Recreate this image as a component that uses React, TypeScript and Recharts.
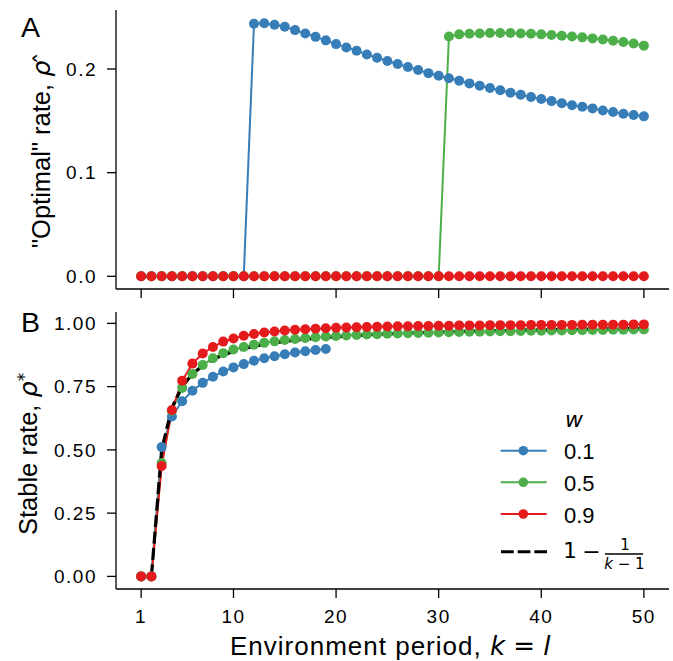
import React from 'react';
import { LineChart, Line, XAxis, YAxis, Legend } from 'recharts';

// Environment period k = l
const periods = [
  1, 2, 3, 4, 5, 6, 7, 8, 9, 10, 11, 12, 13, 14, 15, 16, 17, 18, 19, 20, 21, 22, 23, 24, 25,
  26, 27, 28, 29, 30, 31, 32, 33, 34, 35, 36, 37, 38, 39, 40, 41, 42, 43, 44, 45, 46, 47, 48, 49, 50,
];

// Panel A: "optimal" rate
const optimalW01 = [
  0, 0, 0, 0, 0, 0, 0, 0, 0, 0, 0,
  0.2437, 0.2442, 0.2427, 0.2408, 0.2375, 0.2343, 0.231, 0.2276, 0.224, 0.2208, 0.2176, 0.214, 0.2109,
  0.2077, 0.2048, 0.2019, 0.199, 0.196, 0.1935, 0.191, 0.1887, 0.1861, 0.1839, 0.1816, 0.1794, 0.1771,
  0.1752, 0.173, 0.171, 0.169, 0.167, 0.165, 0.1636, 0.162, 0.16, 0.1585, 0.1569, 0.1556, 0.1543,
];
const optimalW05 = [
  0, 0, 0, 0, 0, 0, 0, 0, 0, 0, 0, 0, 0, 0, 0, 0, 0, 0, 0, 0, 0, 0, 0, 0, 0, 0, 0, 0, 0, 0,
  0.2314, 0.2334, 0.234, 0.2343, 0.2347, 0.2347, 0.2347, 0.2343, 0.234, 0.2334, 0.2327, 0.232, 0.2314,
  0.2305, 0.2295, 0.2285, 0.2273, 0.226, 0.2245, 0.2225,
];
const optimalW09 = [
  0, 0, 0, 0, 0, 0, 0, 0, 0, 0, 0, 0, 0, 0, 0, 0, 0, 0, 0, 0, 0, 0, 0, 0, 0,
  0, 0, 0, 0, 0, 0, 0, 0, 0, 0, 0, 0, 0, 0, 0, 0, 0, 0, 0, 0, 0, 0, 0, 0, 0,
];

// Panel B: stable rate
const stableW01 = [
  0, 0, 0.511, 0.632, 0.692, 0.734, 0.765, 0.789, 0.81, 0.826, 0.839, 0.852, 0.862, 0.87, 0.878,
  0.885, 0.89, 0.895, 0.899,
  null, null, null, null, null, null, null, null, null, null, null, null, null, null, null, null,
  null, null, null, null, null, null, null, null, null, null, null, null, null, null, null,
];
const stableW05 = [
  0, 0, 0.448, 0.655, 0.745, 0.8, 0.836, 0.862, 0.882, 0.897,
  0.907, 0.916, 0.923, 0.929, 0.934, 0.938, 0.942, 0.945, 0.948, 0.95,
  0.952, 0.954, 0.956, 0.957, 0.959, 0.96, 0.961, 0.962, 0.963, 0.964,
  0.965, 0.966, 0.967, 0.967, 0.968, 0.969, 0.969, 0.97, 0.971, 0.971,
  0.972, 0.972, 0.973, 0.973, 0.974, 0.974, 0.975, 0.975, 0.976, 0.976,
];
const stableW09 = [
  0, 0, 0.436, 0.658, 0.773, 0.841, 0.881, 0.907, 0.928, 0.94,
  0.951, 0.958, 0.964, 0.968, 0.972, 0.975, 0.977, 0.979, 0.981, 0.983,
  0.984, 0.985, 0.986, 0.987, 0.988, 0.989, 0.989, 0.99, 0.99, 0.991,
  0.991, 0.992, 0.992, 0.992, 0.993, 0.993, 0.993, 0.993, 0.994, 0.994,
  0.994, 0.994, 0.994, 0.995, 0.995, 0.995, 0.995, 0.995, 0.996, 0.996,
];
const stableTheory = [
  null, 0, 0.5, 0.667, 0.75, 0.8, 0.833, 0.857, 0.875, 0.889,
  0.9, 0.909, 0.917, 0.923, 0.929, 0.933, 0.938, 0.941, 0.944, 0.947,
  0.95, 0.952, 0.955, 0.957, 0.958, 0.96, 0.962, 0.963, 0.964, 0.966,
  0.967, 0.968, 0.969, 0.97, 0.971, 0.971, 0.972, 0.973, 0.974, 0.974,
  0.975, 0.976, 0.976, 0.977, 0.977, 0.978, 0.978, 0.979, 0.979, 0.98,
];

const xTicks = [1, 10, 20, 30, 40, 50];
const yTicksA = [0, 0.1, 0.2];
const yTicksB = [0, 0.25, 0.5, 0.75, 1];
const wLabels = ['0.1', '0.5', '0.9'];
const wColors = ['#377eb8', '#4daf4a', '#e41a1c'];

const dataA = periods.map((k, i) => ({ k, w01: optimalW01[i], w05: optimalW05[i], w09: optimalW09[i] }));
const dataB = periods.map((k, i) => ({
  k,
  w01: stableW01[i],
  w05: stableW05[i],
  w09: stableW09[i],
  theory: stableTheory[i],
}));

const SANS = "'Liberation Sans', Arial, sans-serif";
const MATH = "'DejaVu Sans', sans-serif";

const tickStyle = { fontSize: 19, fill: '#000', fontFamily: SANS, letterSpacing: 1.5 };
const axisLineStyle = { stroke: '#000', strokeWidth: 1.3 };

const seriesKeys = ['w01', 'w05', 'w09'];

const LegendBox = () => {
  const rowsY = [50.7, 82.3, 114];
  return (
    <svg width={193} height={180} style={{ display: 'block' }}>
      <text x={85} y={27} fontFamily={MATH} fontStyle="italic" fontSize={22} fill="#000">w</text>
      {wLabels.map((lab, i) => (
        <g key={lab}>
          <line x1={20.7} x2={66.7} y1={rowsY[i]} y2={rowsY[i]} stroke={wColors[i]} strokeWidth={2} />
          <circle cx={43.3} cy={rowsY[i]} r={4.8} fill={wColors[i]} />
          <text x={84} y={rowsY[i] + 8.6} fontFamily={SANS} fontSize={22} fill="#000">{lab}</text>
        </g>
      ))}
      <line x1={21} x2={67} y1={151.7} y2={151.7} stroke="#000" strokeWidth={3} strokeDasharray="12.7 4" />
      <text x={83} y={158} fontFamily={MATH} fontSize={22} fill="#000">1</text>
      <text x={111.5} y={158.5} textAnchor="middle" fontFamily={MATH} fontSize={22} fill="#000">−</text>
      <line x1={125} x2={163} y1={154} y2={154} stroke="#000" strokeWidth={1.3} />
      <text x={145} y={150} textAnchor="middle" fontFamily={MATH} fontSize={15} fill="#000">1</text>
      <text x={144.5} y={168.5} textAnchor="middle" fontFamily={MATH} fontSize={15} fill="#000">
        <tspan fontStyle="italic">k</tspan>
        <tspan> − 1</tspan>
      </text>
    </svg>
  );
};

export default function App() {
  return (
    <div style={{ position: 'absolute', left: 0, top: 0, width: 673, height: 661, background: '#fff', fontFamily: SANS }}>
      <div style={{ position: 'absolute', left: 0, top: 0 }}>
        <LineChart width={673} height={300} data={dataA} margin={{ top: 10, right: 4, bottom: 0, left: 0 }}>
          <XAxis
            dataKey="k"
            type="number"
            domain={[-1.45, 52.45]}
            allowDataOverflow
            ticks={xTicks}
            tickFormatter={() => ''}
            height={11}
            tickSize={9}
            axisLine={axisLineStyle}
            tickLine={axisLineStyle}
            tick={tickStyle}
          />
          <YAxis
            type="number"
            domain={[-0.01224, 0.2569]}
            allowDataOverflow
            ticks={yTicksA}
            tickFormatter={(v) => Number(v).toFixed(1)}
            width={116}
            tickSize={9}
            tickMargin={10}
            axisLine={axisLineStyle}
            tickLine={axisLineStyle}
            tick={tickStyle}
          />
          {seriesKeys.map((key, i) => (
            <Line
              key={key}
              dataKey={key}
              stroke={wColors[i]}
              strokeWidth={2}
              dot={{ r: 5, fill: wColors[i], stroke: wColors[i], strokeWidth: 0 }}
              activeDot={false}
              isAnimationActive={false}
              type="linear"
            />
          ))}
        </LineChart>
      </div>
      <div style={{ position: 'absolute', left: 0, top: 300 }}>
        <LineChart width={673} height={361} data={dataB} margin={{ top: 12, right: 4, bottom: 0, left: 0 }}>
          <XAxis
            dataKey="k"
            type="number"
            domain={[-1.45, 52.45]}
            allowDataOverflow
            ticks={xTicks}
            height={72}
            tickSize={9}
            tickMargin={12}
            axisLine={axisLineStyle}
            tickLine={axisLineStyle}
            tick={tickStyle}
          />
          <YAxis
            type="number"
            domain={[-0.0498, 1.045]}
            allowDataOverflow
            ticks={yTicksB}
            tickFormatter={(v) => Number(v).toFixed(2)}
            width={116}
            tickSize={9}
            tickMargin={10}
            axisLine={axisLineStyle}
            tickLine={axisLineStyle}
            tick={tickStyle}
          />
          {seriesKeys.map((key, i) => (
            <Line
              key={key}
              dataKey={key}
              name={wLabels[i]}
              stroke={wColors[i]}
              strokeWidth={2}
              dot={{ r: 5, fill: wColors[i], stroke: wColors[i], strokeWidth: 0 }}
              activeDot={false}
              isAnimationActive={false}
              type="linear"
            />
          ))}
          <Line
            dataKey="theory"
            name="1 - 1/(k-1)"
            stroke="#000"
            strokeWidth={3.2}
            strokeDasharray="12 4.5"
            dot={false}
            activeDot={false}
            isAnimationActive={false}
            type="linear"
          />
          <Legend
            layout="vertical"
            align="center"
            verticalAlign="middle"
            content={() => <LegendBox />}
            wrapperStyle={{ position: 'absolute', left: 480, top: 100, width: 193, height: 180, margin: 0, padding: 0 }}
          />
        </LineChart>
      </div>
      <svg
        width={673}
        height={661}
        style={{ position: 'absolute', left: 0, top: 0, pointerEvents: 'none' }}
      >
        <text x={21} y={36.7} fontFamily={SANS} fontSize={28.5} fill="#000">A</text>
        <text x={21} y={331.7} fontFamily={SANS} fontSize={28.5} fill="#000">B</text>
        <text transform="translate(49.5,248) rotate(-90)" fontFamily={SANS} fontSize={25.5} fill="#000">
          <tspan>"Optimal" rate, </tspan>
          <tspan fontFamily={MATH} fontStyle="italic">ρ</tspan>
          <tspan fontFamily={MATH} dx={-4} dy={2}>ˆ</tspan>
        </text>
        <text transform="translate(36.5,535) rotate(-90)" fontFamily={SANS} fontSize={25.5} fill="#000">
          <tspan>Stable rate, </tspan>
          <tspan fontFamily={MATH} fontStyle="italic">ρ</tspan>
          <tspan fontFamily={MATH} fontSize={17} dy={-7}>*</tspan>
        </text>
        <text x={230} y={655} fontFamily={SANS} fontSize={26} letterSpacing={1} fill="#000">
          <tspan>Environment period, </tspan>
          <tspan fontFamily={MATH} fontStyle="italic" letterSpacing={0}>k</tspan>
          <tspan fontFamily={MATH} letterSpacing={0}> = </tspan>
          <tspan fontFamily={MATH} fontStyle="italic" letterSpacing={0}>l</tspan>
        </text>
      </svg>
    </div>
  );
}
